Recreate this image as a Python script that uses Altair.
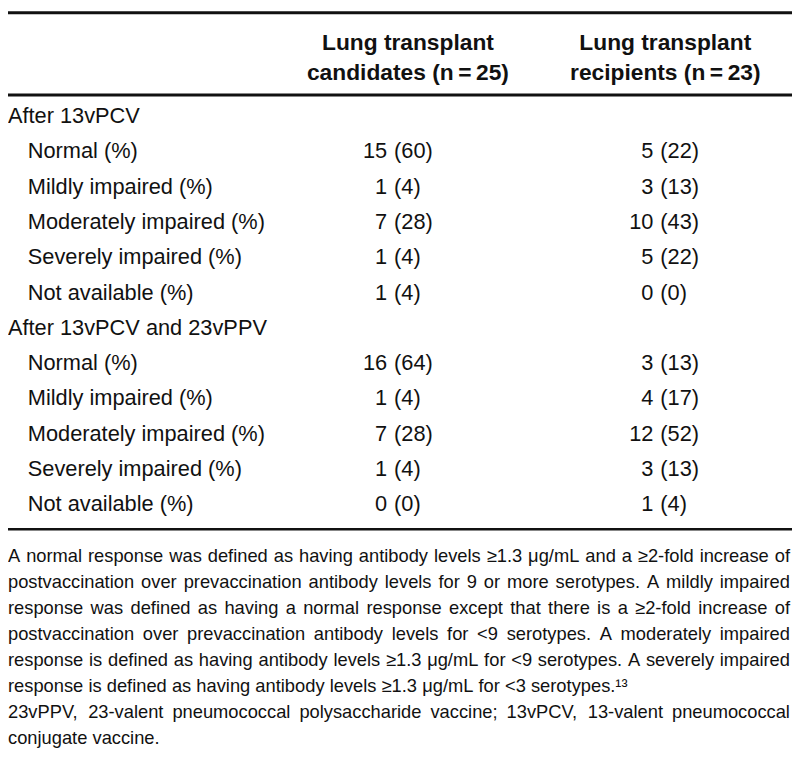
import altair as alt
import pandas as pd

# ---- table content -------------------------------------------------------
group_labels = ["After 13vPCV", "After 13vPCV and 23vPPV"]
response_labels = [
    "Normal (%)",
    "Mildly impaired (%)",
    "Moderately impaired (%)",
    "Severely impaired (%)",
    "Not available (%)",
]
candidates_n = [15, 1, 7, 1, 1, 16, 1, 7, 1, 0]
candidates_pct = [60, 4, 28, 4, 4, 64, 4, 28, 4, 0]
recipients_n = [5, 3, 10, 5, 0, 3, 4, 12, 3, 1]
recipients_pct = [22, 13, 43, 22, 0, 13, 17, 52, 13, 4]
header_candidates = ["Lung transplant", "candidates (n\u2009=\u200925)"]
header_recipients = ["Lung transplant", "recipients (n\u2009=\u200923)"]
footnote_lines = [
    "A normal response was defined as having antibody levels \u22651.3 \u03bcg/mL and a \u22652-fold increase of",
    "postvaccination over prevaccination antibody levels for 9 or more serotypes. A mildly impaired",
    "response was defined as having a normal response except that there is a \u22652-fold increase of",
    "postvaccination over prevaccination antibody levels for <9 serotypes. A moderately impaired",
    "response is defined as having antibody levels \u22651.3 \u03bcg/mL for <9 serotypes. A severely impaired",
    "response is defined as having antibody levels \u22651.3 \u03bcg/mL for <3 serotypes.\u00b9\u00b3",
    "23vPPV, 23-valent pneumococcal polysaccharide vaccine; 13vPCV, 13-valent pneumococcal",
    "conjugate vaccine.",
]
paragraph_end = [False, False, False, False, False, True, False, True]

# ---- layout (reference pixel coordinates) --------------------------------
FONT = "Liberation Sans, Arial, Helvetica, sans-serif"
BODY_SIZE, HEAD_SIZE, NOTE_SIZE = 22, 23, 18.5
ROW_TOP, ROW_STEP = 107, 36
HEAD_TOP, HEAD_STEP = 32, 31
NOTE_TOP, NOTE_STEP = 556, 26.5
LEFT, RIGHT = 8, 798

rows = []
for g, grp in enumerate(group_labels):
    rows.append(dict(label=grp, indent=0, cn="", cp="", rn="", rp=""))
    for j, cat in enumerate(response_labels):
        i = g * len(response_labels) + j
        rows.append(dict(
            label=cat, indent=1,
            cn=str(candidates_n[i]), cp=f"({candidates_pct[i]})",
            rn=str(recipients_n[i]), rp=f"({recipients_pct[i]})",
        ))
body = pd.DataFrame(rows)
body["row"] = range(len(body))
body["y"] = ROW_TOP + ROW_STEP * body["row"]
body["lx"] = body["indent"].map({0: LEFT, 1: 28})
body["c1n"] = 391
body["c1p"] = 398
body["c2n"] = 660
body["c2p"] = 667

head = pd.DataFrame({
    "text": header_candidates + header_recipients,
    "line": [0, 1, 0, 1],
    "x": [412, 412, 672, 672],
})
head["y"] = HEAD_TOP + HEAD_STEP * head["line"]

# justified footnote: word placement from Arial/Liberation Sans advance widths
W = {" ": 278, ".": 278, ",": 278, ";": 278, "-": 333, "/": 278, "<": 584,
     "\u2265": 549, "\u03bc": 576, "\u00b9": 333, "\u00b3": 333, "(": 333, ")": 333,
     "A": 667, "L": 556, "M": 833, "P": 667, "V": 667, "C": 722,
     "f": 278, "i": 222, "j": 222, "l": 222, "m": 833, "r": 333, "t": 278,
     "w": 722, "c": 500, "k": 500, "s": 500, "v": 500, "x": 500, "y": 500, "z": 500}

def width(word):
    return sum(W.get(ch, 556) for ch in word) * NOTE_SIZE / 1000.0

words = []
for k, line in enumerate(footnote_lines):
    ws = line.split(" ")
    widths = [width(w) for w in ws]
    if paragraph_end[k] or len(ws) < 2:
        gap = W[" "] * NOTE_SIZE / 1000.0
    else:
        gap = (RIGHT - LEFT - sum(widths)) / (len(ws) - 1)
    x = LEFT
    for w, wd in zip(ws, widths):
        words.append(dict(text=w, line=k, x=x))
        x += wd + gap
notes = pd.DataFrame(words)
notes["y"] = NOTE_TOP + NOTE_STEP * notes["line"]

rules = pd.DataFrame({"y": [1.5, 85.5, 528.5], "w": [3.0, 3.0, 2.5], "x": LEFT, "x2": 800})

xs = alt.Scale(domain=[8, 800], range=[0, 792], nice=False, zero=False)
ys = alt.Scale(domain=[0.5, 759], range=[0, 751], nice=False, zero=False)

def txt(df, xfield, text, align, size, weight="normal"):
    return alt.Chart(df).mark_text(
        align=align, baseline="middle", font=FONT, fontSize=size,
        fontWeight=weight, color="#111111",
    ).encode(
        x=alt.X(f"{xfield}:Q", scale=xs, axis=None),
        y=alt.Y("y:Q", scale=ys, axis=None),
        text=alt.Text(f"{text}:N"),
    )

rule_layer = alt.Chart(rules).mark_rule(color="#111111").encode(
    x=alt.X("x:Q", scale=xs, axis=None),
    x2="x2:Q",
    y=alt.Y("y:Q", scale=ys, axis=None),
    strokeWidth=alt.StrokeWidth("w:Q", scale=None, legend=None),
)

chart = alt.layer(
    rule_layer,
    txt(head, "x", "text", "center", HEAD_SIZE, "bold"),
    txt(body, "lx", "label", "left", BODY_SIZE),
    txt(body, "c1n", "cn", "right", BODY_SIZE),
    txt(body, "c1p", "cp", "left", BODY_SIZE),
    txt(body, "c2n", "rn", "right", BODY_SIZE),
    txt(body, "c2p", "rp", "left", BODY_SIZE),
    txt(notes, "x", "text", "left", NOTE_SIZE),
).properties(
    width=792, height=751,
    autosize=alt.AutoSizeParams(type="none"),
    padding=0,
).configure_view(stroke=None)

chart.save("out.html", embed_options={"renderer": "svg", "actions": False})
